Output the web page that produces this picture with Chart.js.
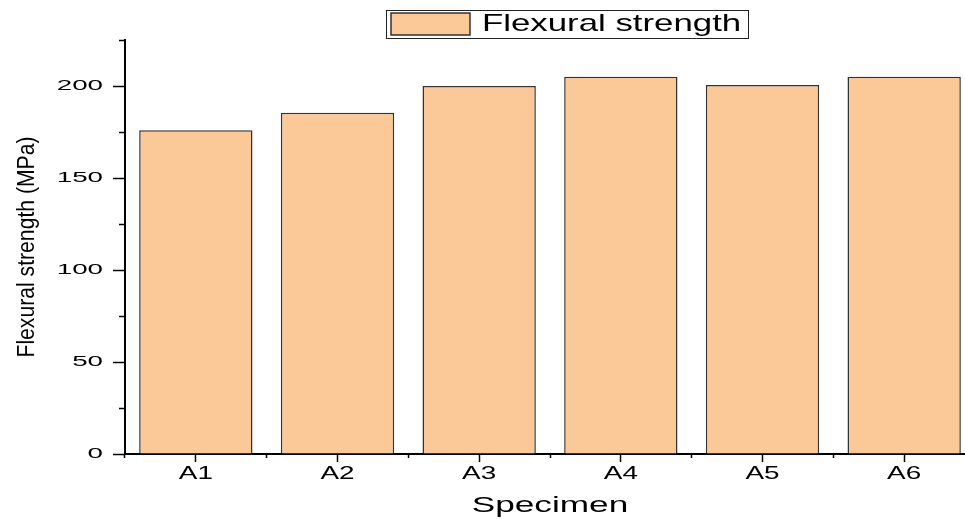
<!DOCTYPE html>
<html>
<head>
<meta charset="utf-8">
<script src="https://cdn.jsdelivr.net/npm/chart.js@4/dist/chart.umd.min.js"></script>
<style>
  html, body { margin: 0; padding: 0; background: #fff; width: 965px; height: 519px; overflow: hidden; }
  #wrap { position: relative; width: 990px; height: 519px; }
</style>
</head>
<body>
<div id="wrap"><canvas id="chart" width="990" height="519"></canvas></div>
<script>
// Specimen categories and their flexural strength (MPa)
const specimens = ['A1', 'A2', 'A3', 'A4', 'A5', 'A6'];
const flexuralStrength = [176, 185.5, 200, 205, 200.5, 205];
const seriesLabel = 'Flexural strength';
const xTitle = 'Specimen';
const yTitle = 'Flexural strength (MPa)';
const yMin = 0, yMax = 225, yMinorStep = 25, yMajorStep = 50;

const FAMILY = '"Liberation Sans", Arial, Helvetica, sans-serif';
const BAR_FILL = '#FBC897';
const BAR_EDGE = '#333333';

// horizontal widening (or narrowing) of glyphs, keyed by font size in px
const TEXT_STRETCH = { 15: 1.85, 18: 1.55, 23: 0.92, 22: 1.6, 24: 1.45 };
function stretchOf(ctx) {
  const m = /(\d+(?:\.\d+)?)px/.exec(ctx.font);
  return m ? (TEXT_STRETCH[Math.round(parseFloat(m[1]))] || 1) : 1;
}

const widenText = {
  id: 'widenText',
  beforeInit(chart) {
    const ctx = chart.ctx;
    const fill = ctx.fillText.bind(ctx);
    const measure = ctx.measureText.bind(ctx);
    ctx.fillText = function (text, x, y, maxWidth) {
      const k = stretchOf(ctx);
      ctx.save();
      ctx.translate(x, y);
      ctx.scale(k, 1);
      if (maxWidth === undefined) fill(text, 0, 0);
      else fill(text, 0, 0, maxWidth / k);
      ctx.restore();
    };
    ctx.measureText = function (text) {
      const k = stretchOf(ctx);
      const m = measure(text);
      return {
        width: m.width * k,
        actualBoundingBoxAscent: m.actualBoundingBoxAscent,
        actualBoundingBoxDescent: m.actualBoundingBoxDescent,
        actualBoundingBoxLeft: m.actualBoundingBoxLeft * k,
        actualBoundingBoxRight: m.actualBoundingBoxRight * k
      };
    };
  }
};

// legend placement and its surrounding frame
const LEGEND_BOX_X = 391, LEGEND_BOX_Y = 13, LEGEND_PAD = 5;
const LEGEND_FONT = 24;
const legendFrame = {
  id: 'legendFrame',
  beforeDraw(chart) {
    const lg = chart.legend;
    lg.left = LEGEND_BOX_X - LEGEND_PAD;
    lg.top = LEGEND_BOX_Y - 1 - LEGEND_PAD;
  },
  afterDraw(chart) {
    const lg = chart.legend;
    const o = lg.options.labels;
    const ctx = chart.ctx;
    ctx.save();
    ctx.font = o.font.size + 'px ' + FAMILY;
    const tw = ctx.measureText(lg.legendItems[0].text).width;
    const left = LEGEND_BOX_X - 5;
    const right = LEGEND_BOX_X + o.boxWidth + o.font.size / 2 + tw + 7;
    ctx.strokeStyle = '#222';
    ctx.lineWidth = 1;
    ctx.strokeRect(left + 0.5, LEGEND_BOX_Y - 3 + 0.5, Math.round(right - left), 28);
    ctx.restore();
  }
};

const isMinor = (c) => c.tick && c.tick.value % yMajorStep !== 0;

new Chart(document.getElementById('chart'), {
  type: 'bar',
  data: {
    labels: specimens,
    datasets: [{
      label: seriesLabel,
      data: flexuralStrength,
      backgroundColor: BAR_FILL,
      borderColor: BAR_EDGE,
      borderWidth: 1.5,
      barPercentage: 0.8,
      categoryPercentage: 1.0,
      xAxisID: 'x',
      yAxisID: 'y'
    }]
  },
  options: {
    responsive: false,
    animation: false,
    devicePixelRatio: 1,
    layout: { padding: { left: 0, right: 15, top: 1, bottom: 0 } },
    plugins: {
      tooltip: { enabled: false },
      legend: {
        display: true,
        position: 'top',
        align: 'start',
        labels: {
          boxWidth: 79,
          boxHeight: 22,
          padding: LEGEND_PAD,
          color: '#000',
          font: { family: FAMILY, size: LEGEND_FONT }
        }
      }
    },
    scales: {
      x: {
        type: 'category',
        position: 'bottom',
        weight: 1,
        offset: true,
        grid: {
          display: true,
          drawOnChartArea: false,
          drawTicks: true,
          offset: false,
          tickLength: 8,
          tickWidth: 1.5,
          tickColor: '#000'
        },
        border: { display: true, color: '#000', width: 2 },
        ticks: {
          color: '#000',
          padding: 1,
          font: { family: FAMILY, size: 18 }
        },
        title: {
          display: true,
          text: xTitle,
          color: '#000',
          padding: { top: 0, bottom: 0 },
          font: { family: FAMILY, size: 22 }
        },
        afterFit(scale) { scale.height = 65; }
      },
      x2: {
        type: 'category',
        axis: 'x',
        position: 'bottom',
        weight: 0,
        offset: true,
        grid: {
          display: true,
          drawOnChartArea: false,
          drawTicks: true,
          offset: true,
          tickLength: 4,
          tickWidth: 1.5,
          tickColor: '#000'
        },
        border: { display: false },
        ticks: { display: false },
        afterFit(scale) { scale.height = 0; }
      },
      y: {
        type: 'linear',
        position: 'left',
        min: yMin,
        max: yMax,
        grid: {
          display: true,
          drawOnChartArea: false,
          drawTicks: true,
          tickLength: 12,
          tickWidth: 1.5,
          tickColor: '#000',
          tickBorderDash: (c) => (isMinor(c) ? [6, 6] : []),
          tickBorderDashOffset: (c) => (isMinor(c) ? 6 : 0)
        },
        border: { display: true, color: '#000', width: 2 },
        ticks: {
          stepSize: yMinorStep,
          color: '#000',
          padding: 10,
          font: { family: FAMILY, size: 15 },
          callback: (v) => (v % yMajorStep === 0 ? String(v) : '')
        },
        title: {
          display: true,
          text: yTitle,
          color: '#000',
          padding: { top: 14, bottom: 0 },
          font: { family: FAMILY, size: 23 }
        },
        afterFit(scale) { scale.width = 125; }
      }
    }
  },
  plugins: [widenText, legendFrame]
});
</script>
</body>
</html>
